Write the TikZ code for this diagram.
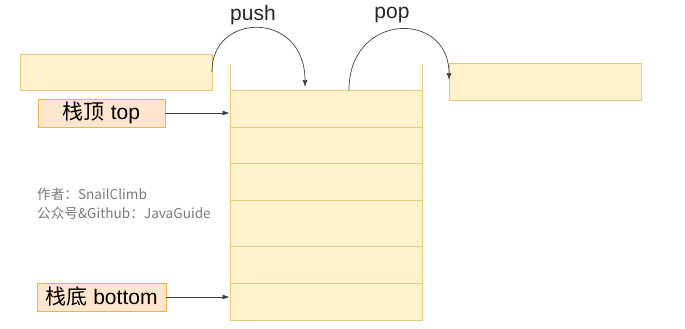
\documentclass[tikz,border=0pt]{standalone}
\usepackage{fontspec}
\setmainfont{Liberation Sans}
\newfontfamily\cjk{Noto Sans CJK SC}
\usetikzlibrary{arrows.meta}
\definecolor{cellfill}{HTML}{FFF2CC}
\definecolor{celldraw}{HTML}{E3C97A}
\definecolor{labfill}{HTML}{FFE6CC}
\definecolor{labdraw}{HTML}{E8B64A}
\definecolor{authgray}{HTML}{7A7A7A}
\tikzset{
  cellbox/.style={draw=celldraw, fill=cellfill, line width=0.9pt, inner sep=0, minimum width=192pt},
  labbox/.style={draw=labdraw, fill=labfill, line width=0.9pt, inner sep=0, minimum height=28pt, font=\fontsize{21}{24}\selectfont},
  wall/.style={draw=celldraw, line width=0.9pt},
  conn/.style={draw=black!75, line width=0.7pt, -{Latex[length=7pt,width=5pt]}},
  optext/.style={font=\fontsize{21}{24}\selectfont, text=black!85},
  authtext/.style={font=\cjk\fontsize{13.6}{16}\selectfont, text=authgray, anchor=west, inner sep=0}
}
\begin{document}
\begin{tikzpicture}[x=1pt,y=-1pt]
\useasboundingbox (0,0) rectangle (685,329);
% stack walls
\coordinate (wl) at (230,64);
\coordinate (wr) at (422,64);
\coordinate (bl) at (230,320);
\coordinate (br) at (422,320);
\draw[wall] (wl) -- (bl);
\draw[wall] (wr) -- (br);
% stack cells
\node[cellbox, minimum height=37pt] (c1) at (326,108.5) {};
\node[cellbox, minimum height=36pt] (c2) at (326,145) {};
\node[cellbox, minimum height=37pt] (c3) at (326,181.5) {};
\node[cellbox, minimum height=46pt] (c4) at (326,223) {};
\node[cellbox, minimum height=37pt] (c5) at (326,264.5) {};
\node[cellbox, minimum height=37pt] (c6) at (326,301.5) {};
% in / out boxes
\node[cellbox, minimum height=36pt] (inbox) at (116,72) {};
\node[cellbox, minimum height=37pt] (outbox) at (545,81.5) {};
% labels
\node[labbox, minimum width=127pt] (top) at (101.5,113) {{\cjk 栈顶} top};
\node[labbox, minimum width=129pt] (bottom) at (101.5,297) {{\cjk 栈底} bottom};
\draw[conn] (top.east) -- (top.east -| c1.west);
\draw[conn] (bottom.east) -- (bottom.east -| c6.west);
% push / pop arcs
\coordinate (pushs) at (212,72);
\coordinate (pushe) at (305,87);
\coordinate (pops) at (349,90);
\coordinate (pope) at (449,80);
\draw[conn] (pushs) .. controls (211,12) and (305,10) .. (pushe);
\draw[conn] (pops) .. controls (349,12) and (449,10) .. (pope);
\node[optext] (push) at (253,15) {push};
\node[optext] (pop) at (392,15) {pop};
% author
\node[authtext] (a1) at (37,194) {作者：SnailClimb};
\node[authtext] (a2) at (37,213) {公众号\&Github：JavaGuide};
\end{tikzpicture}
\end{document}
